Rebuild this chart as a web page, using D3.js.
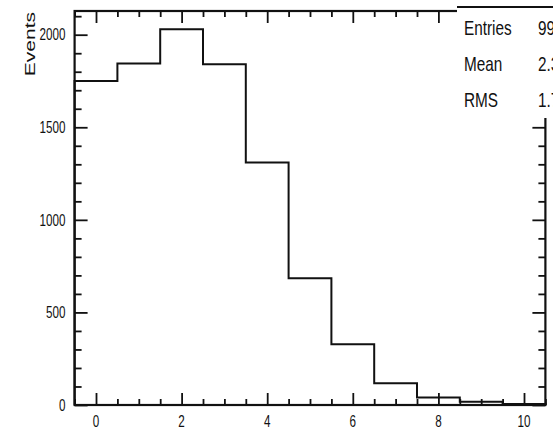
<!DOCTYPE html>
<meta charset="utf-8">
<script src="https://d3js.org/d3.v7.min.js"></script>
<style>
  body { margin: 0; background: #fff; }
  text { font-family: "Liberation Sans", Arial, Helvetica, sans-serif; fill: #111; }
</style>
<div id="chart"></div>
<script>

// histogram contents, bins of width 1 centred on 0..10
var binCenters = [0, 1, 2, 3, 4, 5, 6, 7, 8, 9, 10];
var binCounts  = [1750, 1845, 2030, 1840, 1310, 685, 328, 118, 40, 18, 5];

var xMajor = [0, 2, 4, 6, 8, 10];
var xMinor = [-0.5, 0.5, 1, 1.5, 2.5, 3, 3.5, 4.5, 5, 5.5, 6.5, 7, 7.5, 8.5, 9, 9.5, 10.5];
var yMajor = [0, 500, 1000, 1500, 2000];
var yMinor = [100, 200, 300, 400, 600, 700, 800, 900, 1100, 1200, 1300, 1400,
              1600, 1700, 1800, 1900, 2100];

var statNames  = ["Entries", "Mean", "RMS"];
var statValues = ["9993", "2.356", "1.773"];

var W = 553, H = 433;
var squeeze = 0.73;   // the picture is narrower than its glyphs

var svg = d3.select("#chart").append("svg")
    .attr("width", W)
    .attr("height", H);

var x = d3.scaleLinear().domain([-0.5, 10.5]).range([74.6, 545.4]);
var y = d3.scaleLinear().domain([0, 2128]).range([405, 11]);

// ticks on all four sides, pointing inwards
function ticks(g, axis, vals, size) {
  g.call(axis.tickValues(vals).tickSizeInner(size).tickSizeOuter(0).tickFormat(""));
  g.select(".domain").remove();
  g.selectAll("line").attr("stroke", "#111").attr("stroke-width", 1.8);
}

svg.append("g").attr("transform", "translate(0,405)").call(ticks, d3.axisBottom(x), xMajor, -12);
svg.append("g").attr("transform", "translate(0,405)").call(ticks, d3.axisBottom(x), xMinor, -6);
svg.append("g").attr("transform", "translate(0,11)").call(ticks, d3.axisTop(x), xMajor, -12);
svg.append("g").attr("transform", "translate(0,11)").call(ticks, d3.axisTop(x), xMinor, -6);
svg.append("g").attr("transform", "translate(74.6,0)").call(ticks, d3.axisLeft(y), yMajor, -13);
svg.append("g").attr("transform", "translate(74.6,0)").call(ticks, d3.axisLeft(y), yMinor, -7);
svg.append("g").attr("transform", "translate(545.4,0)").call(ticks, d3.axisRight(y), yMajor, -13);
svg.append("g").attr("transform", "translate(545.4,0)").call(ticks, d3.axisRight(y), yMinor, -7);

// frame
svg.append("rect")
    .attr("x", x(-0.5)).attr("y", y(2128))
    .attr("width", x(10.5) - x(-0.5)).attr("height", y(0) - y(2128))
    .attr("fill", "none").attr("stroke", "#111").attr("stroke-width", 2.2);

// tick labels
svg.append("g").selectAll("text")
  .data(xMajor)
  .enter().append("text")
    .attr("transform", function(d) { return "translate(" + x(d) + ",427) scale(" + squeeze + ",1)"; })
    .attr("text-anchor", "middle")
    .style("font-size", "16px")
    .text(function(d) { return d; });

svg.append("g").selectAll("text")
  .data(yMajor)
  .enter().append("text")
    .attr("transform", function(d) { return "translate(65.5," + (y(d) + 5.8) + ") scale(" + squeeze + ",1)"; })
    .attr("text-anchor", "end")
    .style("font-size", "16px")
    .text(function(d) { return d; });

svg.append("text")
    .attr("transform", "translate(35,12) scale(" + squeeze + ",1) rotate(-90)")
    .attr("text-anchor", "end")
    .style("font-size", "21px")
    .text("Events");

// histogram outline
var pts = [[-0.5, 0]];
binCenters.forEach(function(c, i) {
  pts.push([c - 0.5, binCounts[i]]);
  pts.push([c + 0.5, binCounts[i]]);
});
pts.push([10.5, 0]);

svg.append("path")
    .datum(pts)
    .attr("d", d3.line().x(function(d) { return x(d[0]); }).y(function(d) { return y(d[1]); }))
    .attr("fill", "none")
    .attr("stroke", "#111")
    .attr("stroke-width", 2);

// stats box, cut by the right edge of the picture
svg.append("rect")
    .attr("x", 457).attr("y", 7).attr("width", 120).attr("height", 111)
    .attr("fill", "#fff");
svg.append("line")
    .attr("x1", 457).attr("x2", W).attr("y1", 7).attr("y2", 7)
    .attr("stroke", "#111").attr("stroke-width", 2.2);

var rows = svg.append("g").selectAll("g")
  .data(statNames)
  .enter().append("g")
    .attr("transform", function(d, i) { return "translate(0," + (35 + i * 36) + ")"; });
rows.append("text")
    .attr("transform", "translate(464,0) scale(" + squeeze + ",1)")
    .style("font-size", "21px")
    .text(function(d) { return d; });
rows.append("text")
    .attr("transform", "translate(538,0) scale(" + squeeze + ",1)")
    .style("font-size", "21px")
    .text(function(d, i) { return statValues[i]; });

</script>
